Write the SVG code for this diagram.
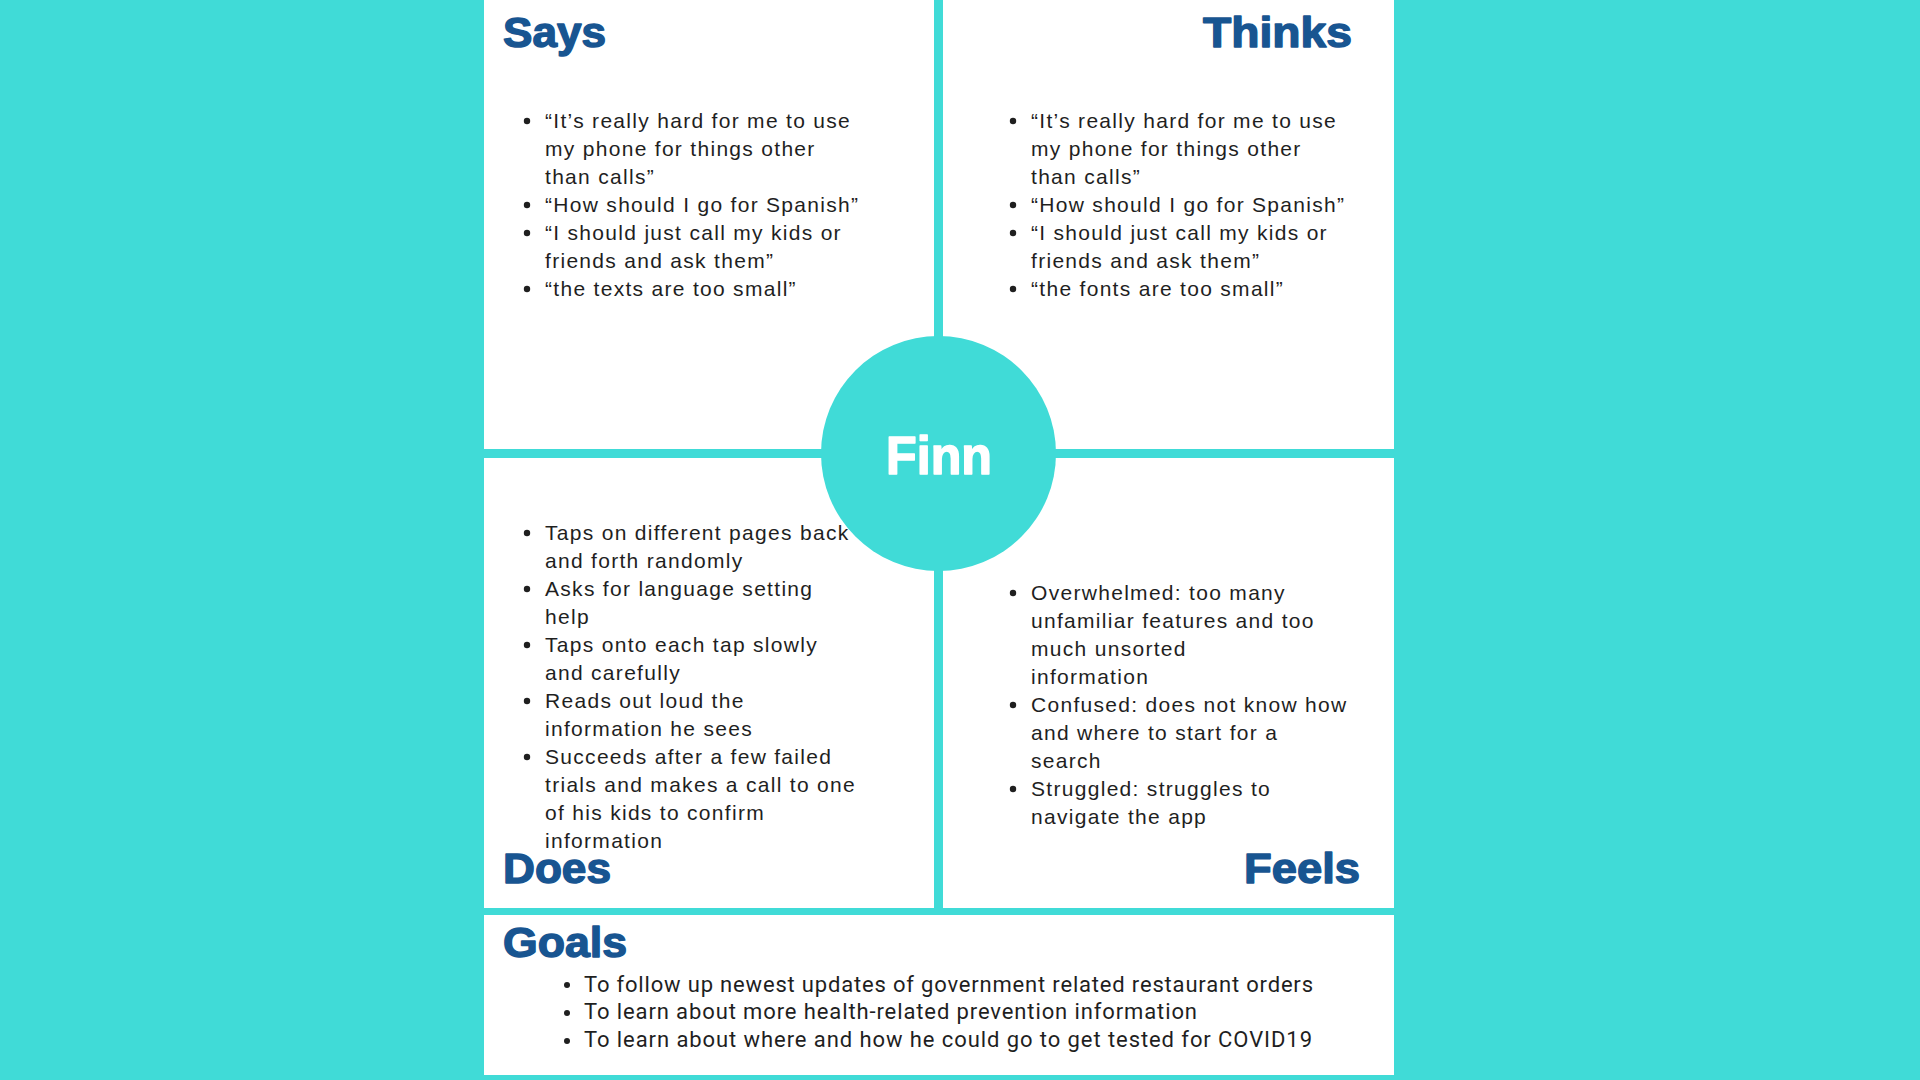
<svg xmlns="http://www.w3.org/2000/svg" width="1920" height="1080" viewBox="0 0 1920 1080">
<style>
.bg{fill:#40dbd7}
.panel{fill:#ffffff}
.title{font-family:"Liberation Sans",Arial,sans-serif;font-weight:700;font-size:42px;fill:#185591;stroke:#185591;stroke-width:1.4px;stroke-linejoin:round}
.body{font-family:"Liberation Sans",Arial,sans-serif;font-size:21px;letter-spacing:1.3px;fill:#1f1f1f}
.goal{font-family:Roboto,"Liberation Sans",sans-serif;font-size:22px;fill:#1f1f1f}
.dot{fill:#1f1f1f}
.name{font-family:"Liberation Sans",Arial,sans-serif;font-weight:700;font-size:54px;fill:#ffffff;stroke:#ffffff;stroke-width:1.6px;stroke-linejoin:round}
</style>
<rect class="bg" x="0" y="0" width="1920" height="1080"/>

<g id="says">
<rect class="panel" x="484" y="0" width="450" height="449"/>
<text class="title" x="503" y="47" textLength="103" lengthAdjust="spacingAndGlyphs">Says</text>
<circle class="dot" cx="527" cy="121" r="3.2"/>
<circle class="dot" cx="527" cy="205" r="3.2"/>
<circle class="dot" cx="527" cy="233" r="3.2"/>
<circle class="dot" cx="527" cy="289" r="3.2"/>
<text class="body" x="545" y="128">“It’s really hard for me to use</text>
<text class="body" x="545" y="156">my phone for things other</text>
<text class="body" x="545" y="184">than calls”</text>
<text class="body" x="545" y="212">“How should I go for Spanish”</text>
<text class="body" x="545" y="240">“I should just call my kids or</text>
<text class="body" x="545" y="268">friends and ask them”</text>
<text class="body" x="545" y="296">“the texts are too small”</text>
</g>

<g id="thinks">
<rect class="panel" x="943" y="0" width="451" height="449"/>
<text class="title" x="1203" y="47" textLength="149" lengthAdjust="spacingAndGlyphs">Thinks</text>
<circle class="dot" cx="1013" cy="121" r="3.2"/>
<circle class="dot" cx="1013" cy="205" r="3.2"/>
<circle class="dot" cx="1013" cy="233" r="3.2"/>
<circle class="dot" cx="1013" cy="289" r="3.2"/>
<text class="body" x="1031" y="128">“It’s really hard for me to use</text>
<text class="body" x="1031" y="156">my phone for things other</text>
<text class="body" x="1031" y="184">than calls”</text>
<text class="body" x="1031" y="212">“How should I go for Spanish”</text>
<text class="body" x="1031" y="240">“I should just call my kids or</text>
<text class="body" x="1031" y="268">friends and ask them”</text>
<text class="body" x="1031" y="296">“the fonts are too small”</text>
</g>

<g id="does">
<rect class="panel" x="484" y="458" width="450" height="450"/>
<text class="title" x="503" y="883" textLength="108" lengthAdjust="spacingAndGlyphs">Does</text>
<circle class="dot" cx="527" cy="533" r="3.2"/>
<circle class="dot" cx="527" cy="589" r="3.2"/>
<circle class="dot" cx="527" cy="645" r="3.2"/>
<circle class="dot" cx="527" cy="701" r="3.2"/>
<circle class="dot" cx="527" cy="757" r="3.2"/>
<text class="body" x="545" y="540">Taps on different pages back</text>
<text class="body" x="545" y="568">and forth randomly</text>
<text class="body" x="545" y="596">Asks for language setting</text>
<text class="body" x="545" y="624">help</text>
<text class="body" x="545" y="652">Taps onto each tap slowly</text>
<text class="body" x="545" y="680">and carefully</text>
<text class="body" x="545" y="708">Reads out loud the</text>
<text class="body" x="545" y="736">information he sees</text>
<text class="body" x="545" y="764">Succeeds after a few failed</text>
<text class="body" x="545" y="792">trials and makes a call to one</text>
<text class="body" x="545" y="820">of his kids to confirm</text>
<text class="body" x="545" y="848">information</text>
</g>

<g id="feels">
<rect class="panel" x="943" y="458" width="451" height="450"/>
<text class="title" x="1244" y="883" textLength="116" lengthAdjust="spacingAndGlyphs">Feels</text>
<circle class="dot" cx="1013" cy="593" r="3.2"/>
<circle class="dot" cx="1013" cy="705" r="3.2"/>
<circle class="dot" cx="1013" cy="789" r="3.2"/>
<text class="body" x="1031" y="600">Overwhelmed: too many</text>
<text class="body" x="1031" y="628">unfamiliar features and too</text>
<text class="body" x="1031" y="656">much unsorted</text>
<text class="body" x="1031" y="684">information</text>
<text class="body" x="1031" y="712">Confused: does not know how</text>
<text class="body" x="1031" y="740">and where to start for a</text>
<text class="body" x="1031" y="768">search</text>
<text class="body" x="1031" y="796">Struggled: struggles to</text>
<text class="body" x="1031" y="824">navigate the app</text>
</g>

<g id="goals">
<rect class="panel" x="484" y="915" width="910" height="160"/>
<text class="title" x="503" y="957" textLength="124" lengthAdjust="spacingAndGlyphs">Goals</text>
<circle class="dot" cx="567" cy="985" r="3"/>
<circle class="dot" cx="567" cy="1013" r="3"/>
<circle class="dot" cx="567" cy="1041" r="3"/>
<text class="goal" x="584" y="992" textLength="729" lengthAdjust="spacing">To follow up newest updates of government related restaurant orders</text>
<text class="goal" x="584" y="1019" textLength="613" lengthAdjust="spacing">To learn about more health-related prevention information</text>
<text class="goal" x="584" y="1047" textLength="728" lengthAdjust="spacing">To learn about where and how he could go to get tested for COVID19</text>
</g>

<g id="center">
<circle cx="938.5" cy="453.5" r="117.5" fill="#40dbd7"/>
<text class="name" x="939" y="474" text-anchor="middle" textLength="106" lengthAdjust="spacingAndGlyphs">Finn</text>
</g>
</svg>
